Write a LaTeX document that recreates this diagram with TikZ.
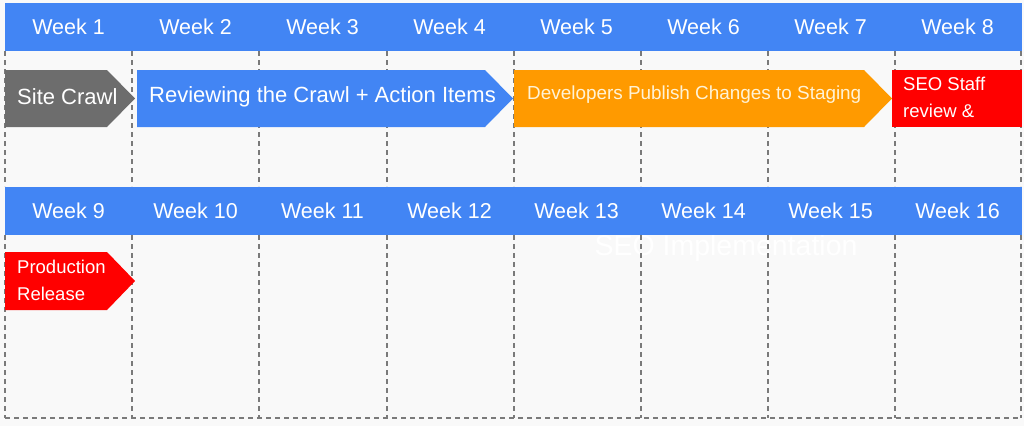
\documentclass[tikz,border=0pt]{standalone}
\usepackage{fontspec}
\setmainfont{Liberation Sans}
\definecolor{bg}{HTML}{F9F9F9}
\definecolor{gblue}{HTML}{4285F4}
\definecolor{ggray}{HTML}{6D6D6D}
\definecolor{gorange}{HTML}{FF9A00}
\definecolor{gred}{HTML}{FF0000}
\definecolor{cream}{HTML}{FFF3D6}
\definecolor{dashc}{HTML}{7A7A7A}
\tikzset{
  grid/.style={draw=dashc, line width=1.1pt, dash pattern=on 5pt off 4pt},
  header/.style={fill=gblue},
  wk/.style={text=white, font=\fontsize{21.5}{24}\selectfont, anchor=center, inner sep=0pt},
  bartext/.style={text=white, font=\fontsize{22}{26}\selectfont, anchor=west, inner sep=0pt},
  smalltext/.style={text=white, font=\fontsize{18.5}{27}\selectfont, anchor=west, inner sep=0pt, align=left},
}
\begin{document}
\begin{tikzpicture}[x=1pt,y=-1pt]
\useasboundingbox (0,0) rectangle (1024,426);
\fill[bg] (0,0) rectangle (1024,426);
% ghost label behind the grid
\node[text=white, font=\fontsize{28.5}{32}\selectfont, inner sep=0pt] (impl) at (726,248) {SEO Implementation};
% grid
\foreach \x in {5,132,259,387,514,641,768,895,1021}{
  \draw[grid] (\x,51) -- (\x,186);
  \draw[grid] (\x,235) -- (\x,418);
}
\draw[grid] (5,418) -- (1021,418);
% headers
\fill[header] (5,3) rectangle (1022,51);
\fill[header] (5,187) rectangle (1022,235);
\foreach \i [count=\n from 0] in {1,...,8}{
  \node[wk] (w\i) at ({68.5+127*\n},27) {Week \i};
}
\foreach \i [count=\n from 0] in {9,...,16}{
  \node[wk] (w\i) at ({68.5+127*\n},211) {Week \i};
}
% bars row 1
\fill[ggray] (5,70) -- (107,70) -- (135,98.5) -- (107,127) -- (5,127) -- cycle;
\fill[gblue] (137,70) -- (485,70) -- (513,98.5) -- (485,127) -- (137,127) -- cycle;
\fill[gorange] (514,70) -- (864,70) -- (892,98.5) -- (864,127) -- (514,127) -- cycle;
\fill[gred] (892,70) rectangle (1022,127);
\node[bartext] (crawl) at (17,97) {Site Crawl};
\node[bartext] (review) at (149,97) {Reviewing the Crawl + Action Items};
\node[bartext, text=cream, font=\fontsize{18.9}{22}\selectfont] (dev) at (527,95) {Developers Publish Changes to Staging};
\node[smalltext, anchor=north west] (seo) at (903,77) {SEO Staff\\review \&};
% row 2
\fill[gred] (5,252) -- (107,252) -- (135,281) -- (107,310) -- (5,310) -- cycle;
\node[smalltext, anchor=north west] (prod) at (17,260) {Production\\Release};
\end{tikzpicture}
\end{document}
